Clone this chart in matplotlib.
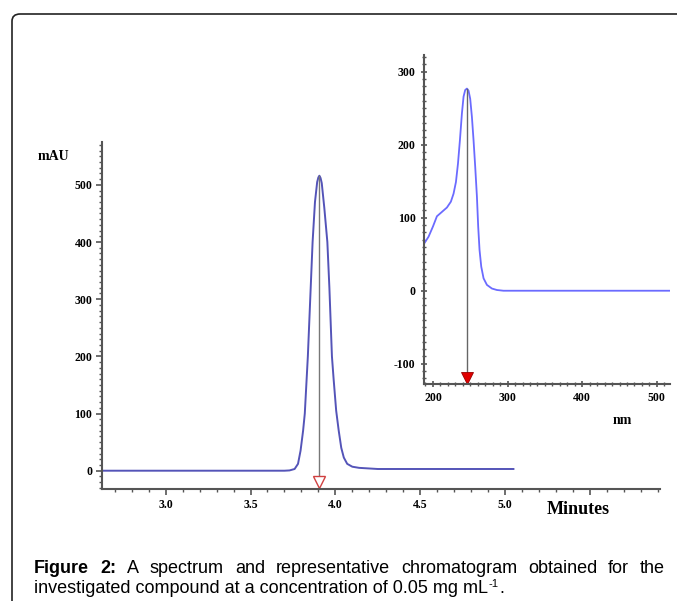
import matplotlib
matplotlib.use("Agg")
import matplotlib.pyplot as plt
from matplotlib.patches import FancyBboxPatch
from matplotlib.ticker import MultipleLocator

# ---- data: chromatogram (minutes vs mAU) ----
ret_time = [2.62, 3.70, 3.73, 3.76, 3.78, 3.795, 3.81, 3.82, 3.838, 3.852, 3.866,
            3.88, 3.893, 3.900, 3.906, 3.913, 3.92, 3.935, 3.953, 3.965, 3.98, 3.99,
            4.005, 4.02, 4.035, 4.05, 4.07, 4.10, 4.14, 4.25, 5.05]
absorb = [0, 0, 0.5, 3, 12, 35, 70, 100, 200, 300, 400,
          470, 505, 513, 516, 512, 503, 460, 400, 320, 200, 160,
          105, 70, 40, 23, 12, 7, 5, 3, 3]
peak_time = 3.906

# ---- data: UV spectrum (nm vs mAU) ----
wavelength = [188.4, 194.1, 200, 205.3, 212, 218.7, 224, 227.6, 230.8, 233.5, 236.1,
              238.8, 241, 243.2, 245.5, 247.7, 249.9, 252.2, 254.4, 256.6, 258.9,
              260.6, 262.4, 264.7, 267.8, 272.3, 279, 285.7, 294.5, 518]
spec_abs = [65, 74, 88, 102, 108, 114, 122, 133, 149, 174, 206,
            243, 266, 275, 277, 274, 263, 238, 206, 170, 129,
            88, 56, 33, 17, 8, 3, 1, 0, 0]
peak_nm = 245.5

main_xticks = [3.0, 3.5, 4.0, 4.5, 5.0, 5.5]
main_xlabels = ["3.0", "3.5", "4.0", "4.5", "5.0", ""]
main_yticks = [0, 100, 200, 300, 400, 500]
inset_xticks = [200, 300, 400, 500]
inset_yticks = [-100, 0, 100, 200, 300]

W, H = 677, 601
fig = plt.figure(figsize=(W / 100, H / 100), dpi=100)

# frame border (rounded, running off right/bottom edges)
border = FancyBboxPatch((12 / W, -0.1), 1.2, (601 - 14) / H + 0.1,
                        boxstyle="round,pad=0,rounding_size=0.012",
                        transform=fig.transFigure, fill=False,
                        edgecolor="#222222", linewidth=1.2)
fig.patches.append(border)

serif = "Liberation Serif"
axcol = "#555555"
tick_fs = 8.5

def px_axes(l, t, r, b):
    return fig.add_axes([l / W, (H - b) / H, (r - l) / W, (b - t) / H])

def style_ticklabels(a):
    for lab in a.get_xticklabels() + a.get_yticklabels():
        lab.set_fontfamily(serif)
        lab.set_fontweight("bold")
        lab.set_fontsize(tick_fs)

# ---- main chromatogram ----
ax = px_axes(102, 142, 660, 489)
ax.patch.set_alpha(0)
ax.plot(ret_time, absorb, color="#5454b8", lw=1.4)
ax.plot([peak_time, peak_time], [516, -20], color="#777777", lw=1.0)
ax.plot([peak_time], [-20], marker="v", markersize=9, markerfacecolor="white",
        markeredgecolor="#d04040", markeredgewidth=1.0)
ax.set_xlim(2.6245, 5.914)
ax.set_ylim(-32, 575)
ax.set_xticks(main_xticks)
ax.set_xticklabels(main_xlabels)
ax.set_yticks(main_yticks)
ax.set_yticklabels([str(v) for v in main_yticks])
ax.xaxis.set_minor_locator(MultipleLocator(0.1))
ax.yaxis.set_minor_locator(MultipleLocator(10))
for s in ["top", "right"]:
    ax.spines[s].set_visible(False)
for s in ["left", "bottom"]:
    ax.spines[s].set_color(axcol)
    ax.spines[s].set_linewidth(1.5)
ax.tick_params(which="major", length=4, width=1.2, color=axcol, pad=3)
ax.tick_params(which="minor", length=2.5, width=1.0, color=axcol)
ax.tick_params(axis="y", which="major", pad=3)
style_ticklabels(ax)

fig.text(53 / W, 1 - 157 / H, "mAU", family=serif, weight="bold", fontsize=10,
         ha="center", va="center")
fig.text(578 / W, 1 - 510 / H, "Minutes", family=serif, weight="bold", fontsize=13,
         ha="center", va="center")

# ---- inset spectrum ----
ai = px_axes(424, 55, 670, 384)
ai.patch.set_alpha(0)
ai.plot(wavelength, spec_abs, color="#6b6bff", lw=1.3)
ai.plot([peak_nm, peak_nm], [277, -119], color="#666666", lw=1.0)
ai.plot([peak_nm], [-119], marker="v", markersize=9, color="#e00000",
        markeredgecolor="#990000", markeredgewidth=0.6)
ai.set_xlim(188, 517.6)
ai.set_ylim(-127.8, 323)
ai.set_xticks(inset_xticks)
ai.set_xticklabels([str(v) for v in inset_xticks])
ai.set_yticks(inset_yticks)
ai.set_yticklabels([str(v) for v in inset_yticks])
ai.xaxis.set_minor_locator(MultipleLocator(10))
ai.yaxis.set_minor_locator(MultipleLocator(10))
for s in ["top", "right"]:
    ai.spines[s].set_visible(False)
for s in ["left", "bottom"]:
    ai.spines[s].set_color(axcol)
    ai.spines[s].set_linewidth(1.5)
ai.tick_params(which="major", length=4, width=1.2, color=axcol, pad=4, direction="inout")
ai.tick_params(which="minor", length=3, width=1.0, color=axcol, direction="inout")
ai.tick_params(axis="y", which="major", pad=4)
style_ticklabels(ai)

fig.text(622 / W, 1 - 421 / H, "nm", family=serif, weight="bold", fontsize=10,
         ha="center", va="center")

# ---- caption (line 1 justified) ----
cap_font = dict(family="Liberation Sans", fontsize=13)
line1 = [("Figure", "bold"), ("2:", "bold"), ("A", "normal"), ("spectrum", "normal"),
         ("and", "normal"), ("representative", "normal"), ("chromatogram", "normal"),
         ("obtained", "normal"), ("for", "normal"), ("the", "normal")]
x0, x1 = 34, 665
y1 = 1 - 573 / H
y2 = 1 - 593 / H
renderer = fig.canvas.get_renderer()
texts = []
for w, wt in line1:
    t = fig.text(0, y1, w, weight=wt, va="baseline", ha="left", **cap_font)
    texts.append(t)
widths = [t.get_window_extent(renderer).width for t in texts]
gap = (x1 - x0 - sum(widths)) / (len(texts) - 1)
xc = x0
for t, wd in zip(texts, widths):
    t.set_x(xc / W)
    xc += wd + gap

t2 = fig.text(x0 / W, y2, "investigated compound at a concentration of 0.05 mg mL",
              va="baseline", ha="left", **cap_font)
w2 = t2.get_window_extent(renderer).width
t3 = fig.text((x0 + w2 + 0.5) / W, y2 + 6 / H, "-1", va="baseline", ha="left",
              family="Liberation Sans", fontsize=8)
w3 = t3.get_window_extent(renderer).width
fig.text((x0 + w2 + w3 + 1) / W, y2, ".", va="baseline", ha="left", **cap_font)

fig.savefig("out.png", dpi=100)
